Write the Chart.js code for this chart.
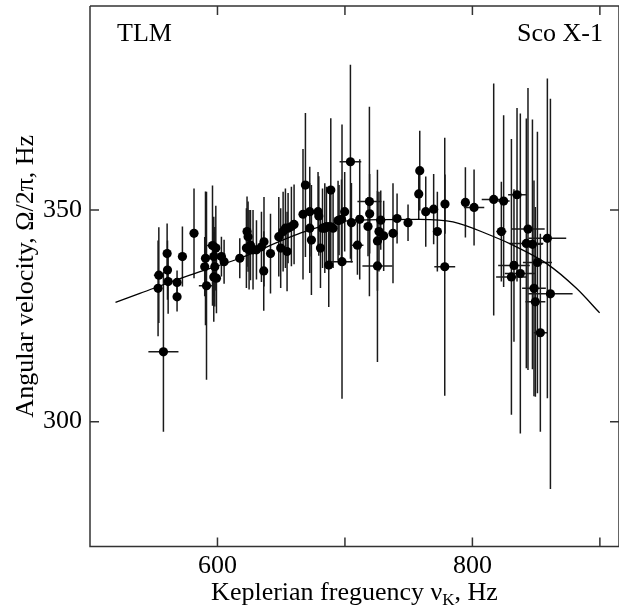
<!DOCTYPE html>
<html><head><meta charset="utf-8">
<script src="https://cdn.jsdelivr.net/npm/chart.js@4/dist/chart.umd.min.js"></script>
<style>html,body{margin:0;padding:0;background:#fff}#c{display:block}</style>
</head><body>
<canvas id="c" width="619" height="606"></canvas>
<script>
// Keplerian frequency (Hz) of each measurement
const freqK = [554.0,553.4,557.6,560.5,560.8,561.3,568.3,568.3,572.5,581.6,590.6,590.0,591.4,596.1,597.1,597.9,597.1,599.2,603.1,605.2,617.5,623.2,624.0,624.8,625.9,627.9,630.6,636.5,636.3,641.6,648.1,649.6,651.5,653.3,655.4,654.6,660.1,667.1,669.0,672.4,672.4,673.7,678.9,679.5,680.8,682.4,685.5,688.1,690.7,688.9,687.3,694.6,697.3,699.8,697.7,704.3,705.1,709.8,711.6,719.2,719.4,718.1,725.5,725.5,728.1,726.7,730.4,737.7,740.9,749.5,758.7,757.9,763.4,769.6,772.5,778.5,778.3,794.5,801.3,816.7,824.5,835.0,822.7,843.6,842.3,847.1,858.8,832.6,830.6,837.6,851.0,848.3,849.4,861.2,853.3,622.7,634.5,658.0,684.2,695.4,598.7];
// Angular velocity Omega/2pi (Hz)
const omega = [334.6,331.5,316.5,339.7,335.8,333.1,332.9,329.5,339.0,344.5,338.6,336.6,332.1,341.6,339.0,336.6,334.2,333.9,339.0,337.8,338.6,344.9,343.7,340.6,341.7,340.6,340.6,342.5,335.6,339.7,343.7,341.0,344.9,345.7,345.7,340.2,346.6,349.0,355.9,349.6,345.7,342.9,349.6,348.6,341.0,345.7,346.1,346.1,345.7,354.7,337.0,347.5,347.8,349.6,337.8,361.4,347.0,341.7,347.8,352.0,349.1,346.1,342.7,336.8,347.6,344.9,343.9,344.5,348.0,347.0,359.3,353.8,349.6,350.2,344.9,351.4,336.6,351.8,350.6,352.5,352.1,353.6,344.9,345.5,342.1,341.9,343.3,336.9,334.2,335.0,337.6,331.5,328.3,330.2,321.0,341.0,341.3,346.1,345.7,347.6,341.0];
// Half-widths of the error bars
const freqErr = [3.9,0,11.8,0,0,0,0,0,0,0,0,0,6,5.5,0,0,0,0,0,0,0,0,0,0,0,0,0,0,0,0,0,0,0,0,0,0,0,0,0,0,0,0,0,0,0,0,0,0,0,0,0,0,0,0,8.5,8.5,0,4.7,0,9.4,0,0,0,11.8,0,0,0,0,0,0,0,0,0,0,0,0,8.2,0,8,9.4,4.7,7,4,13.1,13.3,8,14.8,12.4,12,12.2,11.4,9.3,7.8,17.4,5.2,0,0,0,0,0,0];
const omegaErr = [11.3,11.3,18.9,7.1,7.0,7.6,2.8,3.5,7.1,10.6,15.8,7.0,22.2,14.2,9.4,9.4,10.6,8.3,4.7,5.2,4.7,8.3,8.3,9.4,8.3,9.4,7.0,10.6,9.4,9.4,9.4,9.4,9.4,9.4,8.3,9.4,9.4,15.4,17.0,10.6,10.6,13.0,9.4,9.4,9.4,9.4,9.4,9.4,9.4,17.0,9.9,9.4,9.4,9.4,32.4,22.9,9.4,7.0,14.2,22.4,9.4,7.0,11.8,22.7,7.0,9.4,8.3,11.8,5.9,4.3,9.4,5.9,8.3,8.3,9.4,7.0,30.5,8.3,9.0,27.4,20.3,20.5,11.8,33.3,29.5,29.5,37.8,18.0,32.6,37.8,30.9,25.5,22.4,46.1,23.4,9.4,8.3,9.4,10.6,8.3,10.0];
// Model curve
const curveFreq = [520,539.1,578.3,617.5,668.5,707.7,758.7,784.8,813.6,831.8,858,881.6,899.8];
const curveOmega = [328.2,330.3,334.6,338.6,344.9,347.6,347.8,347.2,344.1,341.7,337.4,331.5,325.7];
// Axes
const xTickValues = [600,700,800,900];
const xTickLabels = ['600','800'];
const yTickValues = [300,350];
const xRange = [500,915];
const yRange = [270.5,398.2];
const xTitleMain = 'Keplerian freguency \u03BD';
const xTitleSub = 'K';
const xTitleEnd = ', Hz';
const yTitle = 'Angular velocity, \u03A9/2\u03C0, Hz';
const cornerLeft = 'TLM';
const cornerRight = 'Sco X-1';

const FONT = 'Liberation Serif';

const decor = {
  id: 'decor',
  beforeDatasetsDraw(chart) {
    const {ctx, chartArea: ca, scales: {x, y}} = chart;
    ctx.save();
    ctx.beginPath(); ctx.rect(ca.left, ca.top, ca.right - ca.left, ca.bottom - ca.top); ctx.clip();
    ctx.strokeStyle = '#1a1a1a'; ctx.lineWidth = 1.5;
    freqK.forEach((fx, i) => {
      const fy = omega[i];
      const px = x.getPixelForValue(fx), py = y.getPixelForValue(fy);
      const ey = omegaErr[i] || 0, ex = freqErr[i] || 0;
      ctx.beginPath();
      if (ey > 0) { ctx.moveTo(px, y.getPixelForValue(fy + ey)); ctx.lineTo(px, y.getPixelForValue(fy - ey)); }
      if (ex > 0) { ctx.moveTo(x.getPixelForValue(fx - ex), py); ctx.lineTo(x.getPixelForValue(fx + ex), py); }
      ctx.stroke();
    });
    ctx.restore();
  },
  afterDraw(chart) {
    const {ctx, chartArea: ca, scales: {x, y}} = chart;
    ctx.save();
    ctx.strokeStyle = '#333'; ctx.lineWidth = 1.5;
    ctx.beginPath();
    ctx.moveTo(ca.left, ca.top); ctx.lineTo(ca.left, ca.bottom); ctx.lineTo(ca.right, ca.bottom);
    ctx.moveTo(ca.left, ca.top); ctx.lineTo(ca.right, ca.top);
    ctx.moveTo(ca.right, ca.top); ctx.lineTo(ca.right, ca.bottom);
    const tl = 9;
    xTickValues.forEach(v => {
      const px = x.getPixelForValue(v);
      ctx.moveTo(px, ca.bottom); ctx.lineTo(px, ca.bottom - tl);
      ctx.moveTo(px, ca.top); ctx.lineTo(px, ca.top + tl);
    });
    yTickValues.forEach(v => {
      const py = y.getPixelForValue(v);
      ctx.moveTo(ca.left, py); ctx.lineTo(ca.left + tl, py);
      ctx.moveTo(ca.right, py); ctx.lineTo(ca.right - tl, py);
    });
    ctx.stroke();
    // corner labels
    ctx.fillStyle = '#000';
    ctx.font = '26px "' + FONT + '"';
    ctx.textBaseline = 'alphabetic';
    ctx.textAlign = 'left';
    ctx.fillText(cornerLeft, ca.left + 27, ca.top + 34.5);
    ctx.textAlign = 'right';
    ctx.fillText(cornerRight, ca.right - 16, ca.top + 34.5);
    // x title with subscript
    ctx.textAlign = 'left';
    const fMain = '26px "' + FONT + '"', fSub = '17px "' + FONT + '"';
    ctx.font = fMain; const w1 = ctx.measureText(xTitleMain).width; const w3 = ctx.measureText(xTitleEnd).width;
    ctx.font = fSub; const w2 = ctx.measureText(xTitleSub).width;
    const total = w1 + w2 + w3;
    let sx = (ca.left + ca.right) / 2 - total / 2;
    const base = 600;
    ctx.font = fMain; ctx.fillText(xTitleMain, sx, base); sx += w1;
    ctx.font = fSub; ctx.fillText(xTitleSub, sx, base + 5); sx += w2;
    ctx.font = fMain; ctx.fillText(xTitleEnd, sx, base);
    ctx.restore();
  }
};

const zeroPad = s => { s.paddingTop = 0; s.paddingBottom = 0; s.paddingLeft = 0; s.paddingRight = 0; };

new Chart(document.getElementById('c'), {
  type: 'scatter',
  data: {
    datasets: [
      {
        label: 'data',
        data: freqK.map((v, i) => ({x: v, y: omega[i]})),
        pointRadius: 4.6,
        pointBackgroundColor: '#000',
        pointBorderWidth: 0,
        showLine: false
      },
      {
        type: 'line',
        label: 'model',
        data: curveFreq.map((v, i) => ({x: v, y: curveOmega[i]})),
        borderColor: '#000',
        borderWidth: 1.3,
        pointRadius: 0,
        fill: false,
        cubicInterpolationMode: 'monotone'
      }
    ]
  },
  options: {
    responsive: false,
    animation: false,
    events: [],
    layout: {autoPadding: false, padding: {top: 6, left: 0, right: 0, bottom: 0}},
    plugins: {legend: {display: false}, tooltip: {enabled: false}},
    scales: {
      x: {
        type: 'linear', position: 'bottom', min: xRange[0], max: xRange[1],
        grid: {display: false, drawTicks: false}, border: {display: false},
        afterBuildTicks: s => { s.ticks = xTickValues.map(v => ({value: v})); },
        afterFit: s => { s.height = 59.5; zeroPad(s); },
        ticks: {
          color: '#000', font: {family: FONT, size: 26}, padding: 4, autoSkip: false, maxRotation: 0,
          callback: v => xTickLabels.includes(String(v)) ? String(v) : ''
        }
      },
      y: {
        type: 'linear', position: 'left', min: yRange[0], max: yRange[1],
        grid: {display: false, drawTicks: false}, border: {display: false},
        afterBuildTicks: s => { s.ticks = yTickValues.map(v => ({value: v})); },
        afterFit: s => { s.width = 90; zeroPad(s); },
        ticks: {color: '#000', font: {family: FONT, size: 26}, padding: 8, callback: v => String(v)},
        title: {display: true, text: yTitle, color: '#000', font: {family: FONT, size: 26}, padding: {top: 11, bottom: 0}}
      }
    }
  },
  plugins: [decor]
});
</script>
</body></html>
